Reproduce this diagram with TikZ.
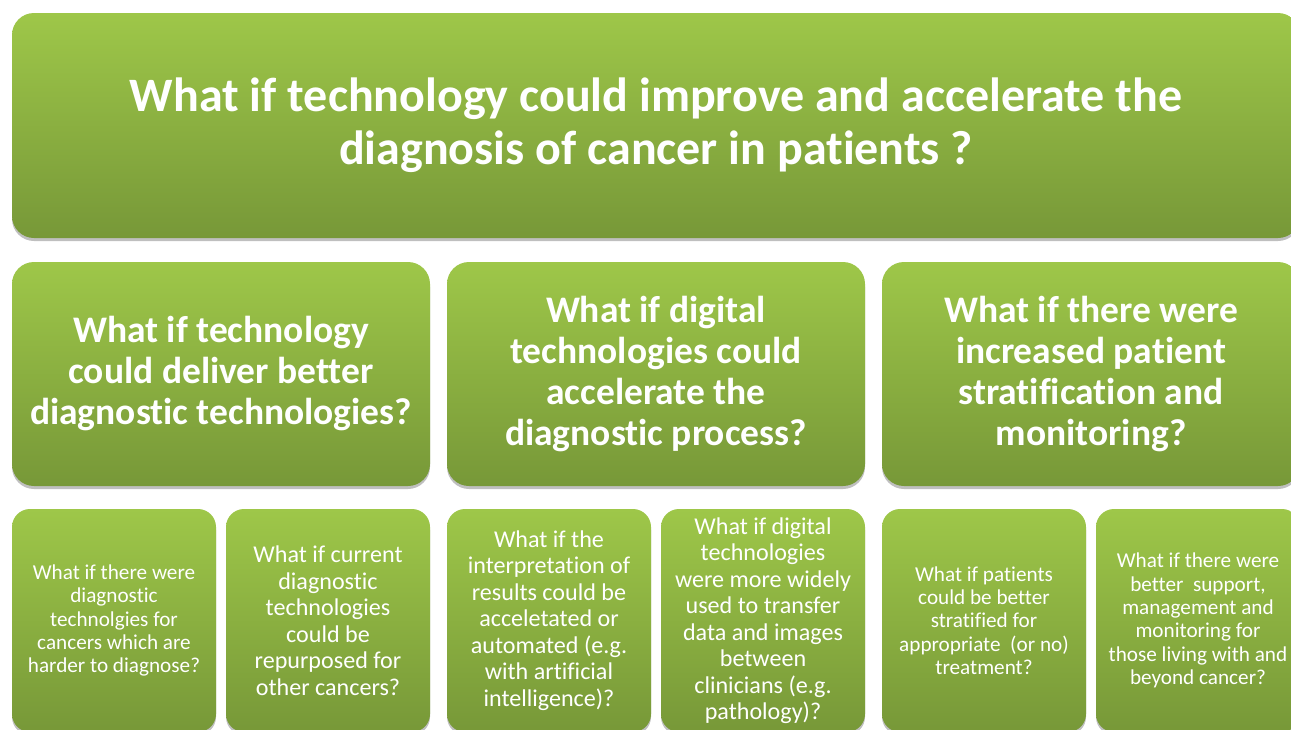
\documentclass[tikz,border=0pt]{standalone}
\usepackage{fontspec}
\setmainfont{Carlito}[Ligatures=NoCommon]
\usetikzlibrary{shadows}
\definecolor{gtop}{RGB}{158,199,73}
\definecolor{gbot}{RGB}{119,152,56}
\tikzset{
  gbox/.style={rounded corners=#1, top color=gtop, bottom color=gbot, draw=none,
    text=white, align=center, inner sep=0pt,
    drop shadow={shadow xshift=0pt, shadow yshift=-3pt, opacity=0.25, fill=black}},
  bigtxt/.style={font=\fontsize{48}{53}\selectfont\bfseries},
  midtxt/.style={font=\fontsize{37.5}{41}\selectfont\bfseries},
  smalltxt/.style={font=\fontsize{21.2}{23.3}\selectfont},
  smtxt/.style={font=\fontsize{24.1}{26.5}\selectfont},
}
\begin{document}
\begin{tikzpicture}[x=1pt,y=1pt]
\useasboundingbox (0,0) rectangle (1291,-729);
\clip (0,0) rectangle (1291,-729);
% top
\node[gbox=22, bigtxt, minimum width=1288, minimum height=225] (top) at (656,-125.5)
  {What if technology could improve and accelerate the\\diagnosis of cancer in patients ?};
% row 2
\node[gbox=22, midtxt, minimum width=418, minimum height=224] (m1) at (221,-374)
  {What if technology\\could deliver better\\diagnostic technologies?};
\node[gbox=22, midtxt, minimum width=418, minimum height=224] (m2) at (656,-374)
  {What if digital\\technologies could\\accelerate the\\diagnostic process?};
\node[gbox=22, midtxt, minimum width=418, minimum height=224] (m3) at (1091,-374)
  {What if there were\\increased patient\\stratification and\\monitoring?};
% row 3
\node[gbox=18, smalltxt, minimum width=204, minimum height=223] (b1) at (114,-620.5)
  {What if there were\\diagnostic\\technolgies for\\cancers which are\\harder to diagnose?};
\node[gbox=18, smtxt, minimum width=204, minimum height=223] (b2) at (328,-620.5)
  {What if current\\diagnostic\\technologies\\could be\\repurposed for\\other cancers?};
\node[gbox=18, smtxt, minimum width=204, minimum height=223] (b3) at (549,-620.5)
  {What if the\\interpretation of\\results could be\\acceletated or\\automated (e.g.\\with artificial\\intelligence)?};
\node[gbox=18, smtxt, minimum width=204, minimum height=223] (b4) at (763,-620.5)
  {What if digital\\technologies\\were more widely\\used to transfer\\data and images\\between\\clinicians (e.g.\\pathology)?};
\node[gbox=18, smalltxt, minimum width=204, minimum height=223] (b5) at (984,-620.5)
  {What if patients\\could be better\\stratified for\\appropriate~ (or no)\\treatment?};
\node[gbox=18, smalltxt, minimum width=204, minimum height=223] (b6) at (1198,-620.5)
  {What if there were\\better~ support,\\management and\\monitoring for\\those living with and\\beyond cancer?};
\end{tikzpicture}
\end{document}
